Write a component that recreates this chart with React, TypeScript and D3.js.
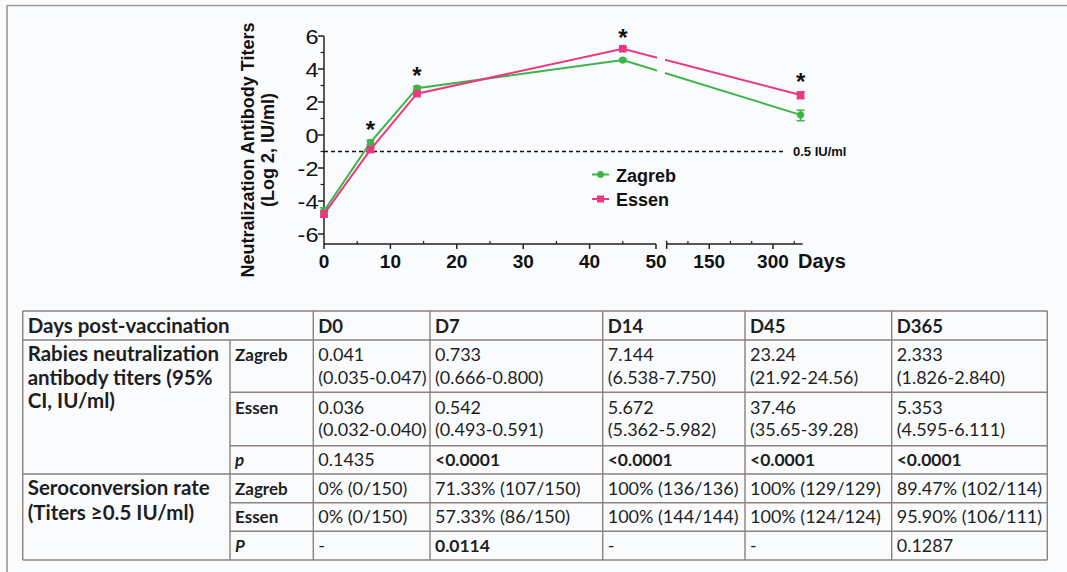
import React from "react";
import * as d3 from "d3";

const days = [0, 7, 14, 45, 365];
const zagrebTiter = [0.041, 0.733, 7.144, 23.24, 2.333];
const zagrebLo = [0.035, 0.666, 6.538, 21.92, 1.826];
const zagrebHi = [0.047, 0.8, 7.75, 24.56, 2.84];
const essenTiter = [0.036, 0.542, 5.672, 37.46, 5.353];
const essenLo = [0.032, 0.493, 5.362, 35.65, 4.595];
const essenHi = [0.04, 0.591, 5.982, 39.28, 6.111];
const starDays = [7, 14, 45, 365];

const yTicks = [-6, -4, -2, 0, 2, 4, 6];
const yMinor = [-5, -3, -1, 1, 3, 5];
const xTicks1 = [0, 10, 20, 30, 40, 50];
const xMinor1 = [5, 15, 25, 35, 45];
const xTicks2 = [150, 300];
const xMinor2 = [100, 200, 250, 350];

const tableDays = ["D0", "D7", "D14", "D45", "D365"];
const zagrebTiterTxt = ["0.041", "0.733", "7.144", "23.24", "2.333"];
const zagrebCiTxt = ["(0.035-0.047)", "(0.666-0.800)", "(6.538-7.750)", "(21.92-24.56)", "(1.826-2.840)"];
const essenTiterTxt = ["0.036", "0.542", "5.672", "37.46", "5.353"];
const essenCiTxt = ["(0.032-0.040)", "(0.493-0.591)", "(5.362-5.982)", "(35.65-39.28)", "(4.595-6.111)"];
const pTiterTxt = ["0.1435", "<0.0001", "<0.0001", "<0.0001", "<0.0001"];
const zagrebSeroTxt = ["0% (0/150)", "71.33% (107/150)", "100% (136/136)", "100% (129/129)", "89.47% (102/114)"];
const essenSeroTxt = ["0% (0/150)", "57.33% (86/150)", "100% (144/144)", "100% (124/124)", "95.90% (106/111)"];
const pSeroTxt = ["-", "0.0114", "-", "-", "0.1287"];

const GREEN = "#3cb548";
const PINK = "#ec3785";

export default function App() {
  const W = 1067, H = 572;
  const x1 = d3.scaleLinear().domain([0, 50]).range([324, 656]);
  const x2 = d3.scaleLinear().domain([50, 370]).range([666.7, 802.7]);
  const xp = (d: number) => (d <= 50 ? x1(d) : x2(d));
  const y = d3.scaleLinear().domain([-6, 6]).range([234, 36]);
  const axisY = y(-6.6);
  const lg = (v: number) => Math.log2(v);

  const line = d3.line<number>().x((_, i) => xp(days[i])).y((v) => y(lg(v)));

  const series = [
    { name: "Zagreb", color: GREEN, vals: zagrebTiter, lo: zagrebLo, hi: zagrebHi, shape: "circle" },
    { name: "Essen", color: PINK, vals: essenTiter, lo: essenLo, hi: essenHi, shape: "square" },
  ];

  const font = "Arial, 'Liberation Sans', sans-serif";
  const tfont = "Lato, 'Open Sans', sans-serif";

  const rows = [311, 340, 392.3, 445.7, 474, 502.7, 531.3, 560];
  const cols = [22.7, 230, 313.3, 430, 602.7, 745, 891.7, 1047.3];
  const tColor = "#8c817c";
  const txtColor = "#1e1e1e";
  const fs = 18;
  const pad = 5;
  const dataX = (j: number) => cols[j + 2] + pad;

  return (
    <div style={{ position: "fixed", left: 0, top: 0 }}>
      <svg width={W} height={H} style={{ display: "block", background: "#f9fbfd" }}>
        <defs>
          <clipPath id="brk">
            <rect x={0} y={0} width={657} height={300} />
            <rect x={665} y={0} width={400} height={300} />
          </clipPath>
        </defs>
        <line x1={7} x2={W} y1={5.5} y2={5.5} stroke="#9a9a9a" strokeWidth={1.6} />
        <line x1={7} x2={7} y1={5} y2={H} stroke="#9a9a9a" strokeWidth={1.6} />

        {/* y axis */}
        <line x1={324} x2={324} y1={y(6)} y2={axisY} stroke="#222" strokeWidth={1.5} />
        {yTicks.map((t) => (
          <g key={"yt" + t}>
            <line x1={318} x2={324} y1={y(t)} y2={y(t)} stroke="#222" strokeWidth={1.5} />
            <g transform={`translate(318.5,${y(t)}) scale(1.12,1)`}>
              <text x={0} y={0} dy="0.36em" textAnchor="end" fontFamily={font} fontSize={21} fill="#111">
                {t}
              </text>
            </g>
          </g>
        ))}
        {yMinor.map((t) => (
          <line key={"ym" + t} x1={320.5} x2={324} y1={y(t)} y2={y(t)} stroke="#222" strokeWidth={1.2} />
        ))}

        {/* x axis segments */}
        <line x1={x1(0)} x2={x1(50)} y1={axisY} y2={axisY} stroke="#222" strokeWidth={1.5} />
        <line x1={x2(50)} x2={x2(370)} y1={axisY} y2={axisY} stroke="#222" strokeWidth={1.5} />
        <line x1={x2(50)} x2={x2(50)} y1={axisY - 3} y2={axisY + 5} stroke="#222" strokeWidth={1.5} />
        {xTicks1.map((t) => (
          <g key={"xt" + t}>
            <line x1={x1(t)} x2={x1(t)} y1={axisY} y2={axisY + 5} stroke="#222" strokeWidth={1.5} />
            <text x={x1(t)} y={268} textAnchor="middle" fontFamily={font} fontWeight="bold" fontSize={19} fill="#111">
              {t}
            </text>
          </g>
        ))}
        {xMinor1.map((t) => (
          <line key={"xm" + t} x1={x1(t)} x2={x1(t)} y1={axisY - 3} y2={axisY} stroke="#222" strokeWidth={1.2} />
        ))}
        {xTicks2.map((t) => (
          <g key={"xt2" + t}>
            <line x1={x2(t)} x2={x2(t)} y1={axisY} y2={axisY + 5} stroke="#222" strokeWidth={1.5} />
            <text x={x2(t)} y={268} textAnchor="middle" fontFamily={font} fontWeight="bold" fontSize={19} fill="#111">
              {t}
            </text>
          </g>
        ))}
        {xMinor2.map((t) => (
          <line key={"xm2" + t} x1={x2(t)} x2={x2(t)} y1={axisY - 3} y2={axisY} stroke="#222" strokeWidth={1.2} />
        ))}
        <text x={798} y={268} fontFamily={font} fontWeight="bold" fontSize={20} fill="#111">
          Days
        </text>

        {/* y title */}
        <g transform={`translate(248,150) rotate(-90)`}>
          <text textAnchor="middle" dy="0.35em" fontFamily={font} fontWeight="bold" fontSize={18} fill="#111">
            Neutralization Antibody Titers
          </text>
        </g>
        <g transform={`translate(268,150) rotate(-90)`}>
          <text textAnchor="middle" dy="0.35em" fontFamily={font} fontWeight="bold" fontSize={18} fill="#111">
            (Log 2, IU/ml)
          </text>
        </g>

        {/* threshold */}
        <line x1={324} x2={786} y1={y(-1)} y2={y(-1)} stroke="#111" strokeWidth={1.5} strokeDasharray="4,3" />
        <text x={793} y={y(-1) + 4.5} fontFamily={font} fontWeight="bold" fontSize={13} fill="#111">
          0.5 IU/ml
        </text>

        {/* series */}
        {series.map((s) => (
          <g key={s.name}>
            <path d={line(s.vals) || ""} fill="none" stroke={s.color} strokeWidth={2} clipPath="url(#brk)" />
            {s.vals.map((v, i) => {
              const cx = xp(days[i]);
              const yl = y(lg(s.lo[i]));
              const yh = y(lg(s.hi[i]));
              return (
                <g key={i}>
                  <line x1={cx} x2={cx} y1={yl} y2={yh} stroke={s.color} strokeWidth={1.5} />
                  <line x1={cx - 4} x2={cx + 4} y1={yl} y2={yl} stroke={s.color} strokeWidth={1.5} />
                  <line x1={cx - 4} x2={cx + 4} y1={yh} y2={yh} stroke={s.color} strokeWidth={1.5} />
                  {s.shape === "circle" ? (
                    <circle cx={cx} cy={y(lg(v))} r={3.6} fill={s.color} />
                  ) : (
                    <rect x={cx - 3.8} y={y(lg(v)) - 3.8} width={7.6} height={7.6} fill={s.color} />
                  )}
                </g>
              );
            })}
          </g>
        ))}

        {/* asterisks */}
        {starDays.map((d) => {
          const i = days.indexOf(d);
          const top = Math.min(y(lg(zagrebHi[i])), y(lg(essenHi[i])));
          return (
            <text key={"s" + d} x={xp(d)} y={top - 2} textAnchor="middle" fontFamily={font} fontWeight="bold" fontSize={24} fill="#111">
              *
            </text>
          );
        })}

        {/* legend */}
        <line x1={592} x2={609} y1={174.5} y2={174.5} stroke={GREEN} strokeWidth={2} />
        <circle cx={600.5} cy={174.5} r={3.4} fill={GREEN} />
        <text x={616} y={182} fontFamily={font} fontWeight="bold" fontSize={18} fill="#111">
          Zagreb
        </text>
        <line x1={592} x2={609} y1={199} y2={199} stroke={PINK} strokeWidth={2} />
        <rect x={597} y={195.5} width={7} height={7} fill={PINK} />
        <text x={616} y={205.5} fontFamily={font} fontWeight="bold" fontSize={18} fill="#111">
          Essen
        </text>

        {/* table lines */}
        <g stroke={tColor} strokeWidth={1.4}>
          {[0, 1, 4, 7].map((r) => (
            <line key={"h" + r} x1={cols[0]} x2={cols[7]} y1={rows[r]} y2={rows[r]} />
          ))}
          {[2, 3, 5, 6].map((r) => (
            <line key={"hp" + r} x1={cols[1]} x2={cols[7]} y1={rows[r]} y2={rows[r]} />
          ))}
          {[0, 2, 3, 4, 5, 6, 7].map((c) => (
            <line key={"v" + c} x1={cols[c]} x2={cols[c]} y1={rows[0]} y2={rows[7]} />
          ))}
          <line x1={cols[1]} x2={cols[1]} y1={rows[1]} y2={rows[7]} />
        </g>

        {/* table text */}
        <g fontFamily={tfont} fontSize={fs} fill={txtColor}>
          <g fontSize={20.5} fontWeight="bold">
            <text x={cols[0] + pad} y={rows[0] + 21.5}>Days post-vaccination</text>
            <text x={cols[0] + pad} y={361}>Rabies neutralization</text>
            <text x={cols[0] + pad} y={384.5}>antibody titers (95%</text>
            <text x={cols[0] + pad} y={408}>CI, IU/ml)</text>
            <text x={cols[0] + pad} y={495}>Seroconversion rate</text>
            <text x={cols[0] + pad} y={519.5}>(Titers ≥0.5 IU/ml)</text>
          </g>
          {tableDays.map((t, j) => (
            <text key={"d" + j} x={dataX(j)} y={rows[0] + 21.5} fontWeight="bold" fontSize={18.5}>{t}</text>
          ))}

          <g fontSize={17} fontWeight="bold">
            <text x={cols[1] + pad} y={361}>Zagreb</text>
            <text x={cols[1] + pad} y={413.5}>Essen</text>
            <text x={cols[1] + pad} y={466} fontStyle="italic">p</text>
            <text x={cols[1] + pad} y={494.5}>Zagreb</text>
            <text x={cols[1] + pad} y={523}>Essen</text>
            <text x={cols[1] + pad} y={551.5} fontStyle="italic">P</text>
          </g>

          {tableDays.map((_, j) => (
            <g key={"c" + j}>
              <text x={dataX(j)} y={361}>{zagrebTiterTxt[j]}</text>
              <text x={dataX(j)} y={383.5}>{zagrebCiTxt[j]}</text>
              <text x={dataX(j)} y={413.5}>{essenTiterTxt[j]}</text>
              <text x={dataX(j)} y={436}>{essenCiTxt[j]}</text>
              <text x={dataX(j)} y={466} fontWeight={pTiterTxt[j].startsWith("<") ? "bold" : "normal"} fontSize={pTiterTxt[j].startsWith("<") ? 17.5 : fs}>{pTiterTxt[j]}</text>
              <text x={dataX(j)} y={494.5}>{zagrebSeroTxt[j]}</text>
              <text x={dataX(j)} y={523}>{essenSeroTxt[j]}</text>
              <text x={dataX(j)} y={551.5} fontWeight={pSeroTxt[j] === "0.0114" ? "bold" : "normal"} fontSize={pSeroTxt[j] === "0.0114" ? 17.5 : fs}>{pSeroTxt[j]}</text>
            </g>
          ))}
        </g>
      </svg>
    </div>
  );
}
